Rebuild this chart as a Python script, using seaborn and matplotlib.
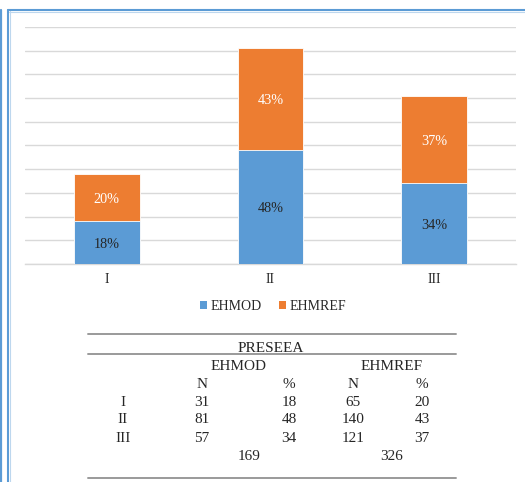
import matplotlib
matplotlib.use("Agg")
import matplotlib.pyplot as plt
from matplotlib.patches import Patch
from matplotlib.lines import Line2D
import seaborn as sns
import pandas as pd

# Chart data (percentages per level)
categories = ["I", "II", "III"]
ehmod_pct = [18, 48, 34]
ehmref_pct = [20, 43, 37]

# Table data
ehmod_n = [31, 81, 57]
ehmref_n = [65, 140, 121]
ehmod_total = 169
ehmref_total = 326

BLUE = "#5B9BD5"
ORANGE = "#ED7D31"
GRID = "#D9D9D9"
FRAME = "#5B9BD5"
RULE = "#9A9A9A"
TEXT = "#262626"

sns.set_style("white")
plt.rcParams["font.family"] = ["Liberation Serif", "DejaVu Serif"]

W, H = 525, 482
fig = plt.figure(figsize=(W / 100, H / 100), dpi=100)


def fx(px):
    return px / W


def fy(py):
    return 1 - py / H


# Plot area
ax = fig.add_axes([fx(25), fy(264), fx(516) - fx(25), fy(27) - fy(264)])

df = pd.DataFrame({
    "level": categories,
    "EHMOD": ehmod_pct,
    "EHMREF": ehmref_pct,
})
df["total"] = df["EHMOD"] + df["EHMREF"]

# Stacked bars: full height in orange, lower segment in blue on top of it
sns.barplot(data=df, x="level", y="total", color=ORANGE, saturation=1,
            width=0.4, edgecolor="white", linewidth=0.6, ax=ax, zorder=3)
sns.barplot(data=df, x="level", y="EHMOD", color=BLUE, saturation=1,
            width=0.4, edgecolor="white", linewidth=0.6, ax=ax, zorder=4)

ax.set_ylim(0, 100)
ax.set_xlim(-0.5, 2.5)
ax.set_yticks(range(0, 101, 10))
ax.set_yticklabels([])
ax.grid(axis="y", color=GRID, linewidth=1.0, zorder=0)
ax.set_axisbelow(True)
for side in ["top", "right", "left"]:
    ax.spines[side].set_visible(False)
ax.spines["bottom"].set_color(GRID)
ax.spines["bottom"].set_linewidth(1.0)
ax.tick_params(axis="x", length=0, pad=6.5, labelsize=10, labelcolor=TEXT)
ax.tick_params(axis="y", length=0)
ax.set_xlabel("")
ax.set_ylabel("")

# Segment labels
for i, (a, b) in enumerate(zip(ehmod_pct, ehmref_pct)):
    ax.text(i, a / 2, f"{a}%", ha="center", va="center_baseline",
            fontsize=10.3, color=TEXT, zorder=5)
    ax.text(i, a + b / 2, f"{b}%", ha="center", va="center_baseline",
            fontsize=10.3, color="white", zorder=5)

# Legend
handles = [Patch(facecolor=BLUE, edgecolor="none", label="EHMOD"),
           Patch(facecolor=ORANGE, edgecolor="none", label="EHMREF")]
fig.legend(handles=handles, loc="center", bbox_to_anchor=(fx(273), fy(306)),
           ncol=2, frameon=False, fontsize=10, handlelength=0.5,
           handleheight=0.5, handletextpad=0.3, columnspacing=1.2,
           labelcolor=TEXT)

# Frame lines
fig.add_artist(Line2D([fx(0.8), fx(0.8)], [fy(10), fy(H)], color=FRAME, lw=1.6))
fig.add_artist(Line2D([fx(8), fx(8)], [fy(10), fy(H)], color=FRAME, lw=1.5))
fig.add_artist(Line2D([fx(9.6), fx(9.6)], [fy(11), fy(H)], color="#BDD7EE", lw=0.8))
fig.add_artist(Line2D([fx(8), fx(W)], [fy(10), fy(10)], color=FRAME, lw=1.5))
fig.add_artist(Line2D([fx(9), fx(W)], [fy(11.6), fy(11.6)], color="#BDD7EE", lw=0.8))

# Table rules
for y in (333.5, 354, 478):
    fig.add_artist(Line2D([fx(88), fx(456)], [fy(y), fy(y)], color=RULE, lw=1.4))

TS = 11


def ttext(x, y, s):
    fig.text(fx(x), fy(y), s, ha="center", va="baseline", fontsize=TS, color=TEXT)


ttext(271, 351.5, "PRESEEA")
ttext(239, 370, "EHMOD")
ttext(392, 370, "EHMREF")
for x, s in ((202, "N"), (289, "%"), (353, "N"), (422, "%")):
    ttext(x, 387.7, s)

row_y = [405.7, 423.4, 441.6]
for y, lab, n1, p1, n2, p2 in zip(row_y, categories, ehmod_n, ehmod_pct,
                                  ehmref_n, ehmref_pct):
    ttext(123, y, lab)
    ttext(202, y, str(n1))
    ttext(289, y, str(p1))
    ttext(353, y, str(n2))
    ttext(422, y, str(p2))

ttext(249, 460, str(ehmod_total))
ttext(392, 460, str(ehmref_total))

fig.savefig("out.png", dpi=100)
